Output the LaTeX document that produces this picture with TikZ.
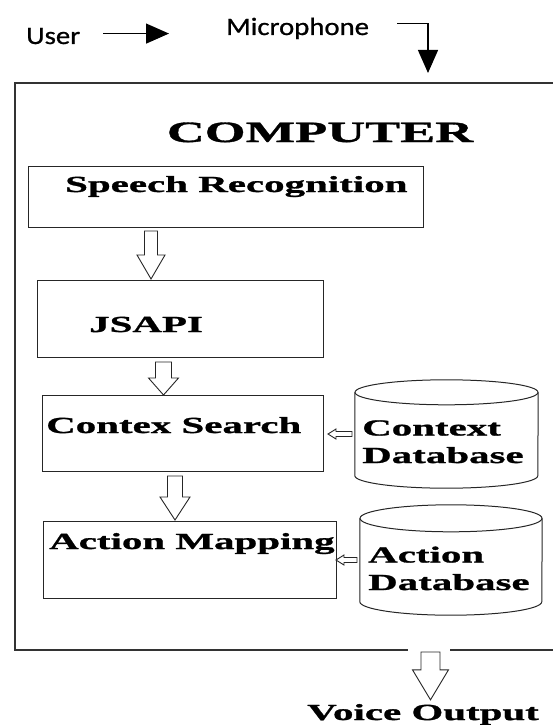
\documentclass[tikz,border=0pt]{standalone}
\usepackage{fontspec}
\newfontfamily\serifbold{Liberation Serif}[FakeStretch=1.78, BoldFeatures={FakeBold=1.2}]
\newfontfamily\sanslabel{Carlito}[FakeStretch=1.15, FakeBold=0.8]
\usetikzlibrary{arrows.meta, shapes.geometric, calc}

\begin{document}
\begin{tikzpicture}[x=1pt, y=-1pt,
    box/.style={draw=black!85, line width=1pt, rectangle, anchor=north west, inner sep=0},
    database/.style={rectangle, inner sep=0},
    dbline/.style={draw=black!85, line width=1pt},
    boxtext/.style={font=\serifbold\bfseries\fontsize{23}{27.5}\selectfont, inner sep=0, anchor=base west, align=left},
    sanstext/.style={font=\sanslabel\fontsize{25}{30}\selectfont, inner sep=0, anchor=base west},
    frame/.style={draw=black!80, line width=1.2pt},
    solidarrow/.style={line width=1.3pt, -{Triangle[length=23pt, width=20pt]}},
    hollowdown/.style n args={3}{draw=black!85, fill=white, line width=0.9pt, to path={let \p1=(\tikztostart), \p2=(\tikztotarget) in (\x1-#1,\y1) -- (\x1-#1,\y2+#3) -- (\x1-#2,\y2+#3) -- (\x1,\y2) -- (\x1+#2,\y2+#3) -- (\x1+#1,\y2+#3) -- (\x1+#1,\y1) -- cycle}},
    hollowleft/.style n args={3}{draw=black!85, fill=white, line width=0.9pt, to path={let \p1=(\tikztostart), \p2=(\tikztotarget) in (\x1,\y1-#1) -- (\x2+#3,\y1-#1) -- (\x2+#3,\y1-#2) -- (\x2,\y1) -- (\x2+#3,\y1+#2) -- (\x2+#3,\y1+#1) -- (\x1,\y1+#1) -- cycle}}
]
\useasboundingbox (0,0) rectangle (553,725);

% input side
\node[sanstext] (user) at (26,44) {User};
\node[sanstext] (mic) at (226,35) {Microphone};
\coordinate (user_out) at ([yshift=2.5pt]user.east);
\draw[solidarrow, shorten <=23pt, shorten >=57pt] (user_out) -- (user_out -| mic.west);
\coordinate (mic_out) at ([xshift=28pt, yshift=5pt]mic.east);
\coordinate (mic_in) at (428,73);
\draw[solidarrow] (mic_out) -| (mic_in);

% computer frame
\coordinate (frame_nw) at (15,83);
\coordinate (frame_sw) at (15,650);
\draw[frame] (560,83) -- (frame_nw) -- (frame_sw) -- (408,650);
\draw[frame] (450,650) -- (560,650);
\node[boxtext, anchor=base, font=\serifbold\bfseries\fontsize{29.5}{34}\selectfont] (computer) at (320,142) {COMPUTER};

% processing blocks
\node[box, minimum width=395pt, minimum height=61pt] (speech) at (28,166) {};
\node[boxtext] (speech_txt) at (65,192) {Speech Recognition};
\node[box, minimum width=286pt, minimum height=77pt] (jsapi) at (37,280) {};
\node[boxtext] (jsapi_txt) at (89,332) {JSAPI};
\node[box, minimum width=281pt, minimum height=76pt] (contex) at (42,395) {};
\node[boxtext] (contex_txt) at (46,433) {Contex Search};
\node[box, minimum width=293pt, minimum height=77pt] (action) at (43,521) {};
\node[boxtext] (action_txt) at (49,549) {Action Mapping};

% databases
\node[database, minimum width=183pt, minimum height=108pt] (ctxdb) at (446.5,434) {};
\node[database, minimum width=182pt, minimum height=110pt] (actdb) at (451,560) {};
\foreach \db/\rx/\ry in {ctxdb/91.5/12.5, actdb/91/13.5} {
  \draw[dbline] ([yshift=-\ry pt]\db.north) ellipse [x radius=\rx pt, y radius=\ry pt];
  \draw[dbline] ([yshift=-\ry pt]\db.north west) -- ([yshift=\ry pt]\db.south west)
    arc [start angle=180, end angle=360, x radius=\rx pt, y radius=\ry pt]
    -- ([yshift=-\ry pt]\db.north east);
}
\node[boxtext] (ctxdb_txt) at (362,463) {Context\\Database};
\node[boxtext] (actdb_txt) at (368,590) {Action\\Database};

\node[boxtext] (voice) at (307,720) {Voice Output};

% flow
\draw[hollowdown={6.5pt}{14pt}{24pt}] ([xshift=-75pt, yshift=-3pt]speech.south) to ([yshift=1pt]jsapi.north);
\draw[hollowdown={8pt}{15pt}{17pt}] ([xshift=-17pt, yshift=-4pt]jsapi.south) to (contex.north);
\draw[hollowdown={7.5pt}{15pt}{23pt}] ([xshift=-8pt, yshift=-4pt]contex.south) to ([yshift=1pt]action.north);
\draw[hollowleft={2.5pt}{5pt}{8pt}] ([xshift=-94.5pt]ctxdb.center) to ([xshift=4pt]contex.east);
\draw[hollowleft={2.5pt}{5pt}{8pt}] ([xshift=-94pt]actdb.center) to ([xshift=-1pt]action.east);
\coordinate (out_top) at (430.5,652);
\draw[hollowdown={9.5pt}{18pt}{30pt}] (out_top) to ([yshift=4pt]voice.north);
\end{tikzpicture}
\end{document}
